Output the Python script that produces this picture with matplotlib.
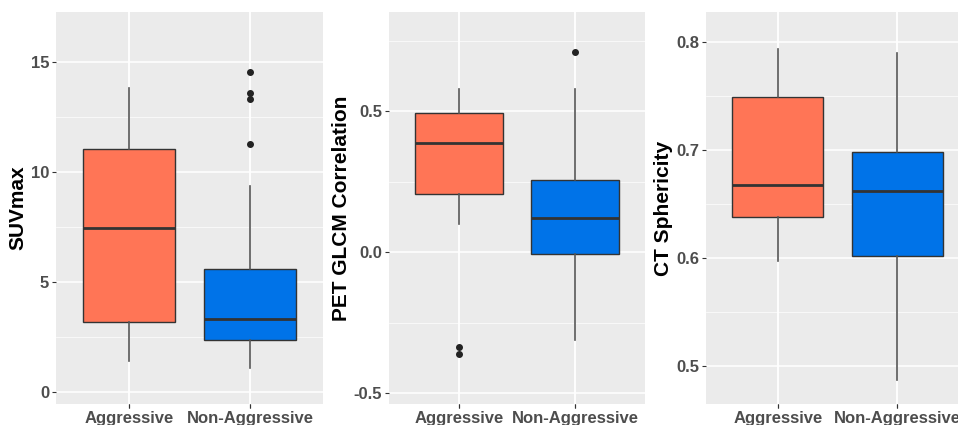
import matplotlib
matplotlib.use("Agg")
import matplotlib.pyplot as plt
from matplotlib.ticker import FixedLocator

plt.rcParams['font.family'] = ['Liberation Sans', 'DejaVu Sans']

categories = ["Aggressive", "Non-Aggressive"]
colors = ["#FF7556", "#0073E8"]

# stats: whislo, q1, med, q3, whishi, outliers
suv_stats = [(1.41, 3.20, 7.47, 11.03, 13.82, []),
             (1.09, 2.35, 3.30, 5.59, 9.38, [14.55, 13.58, 13.30, 11.27])]
pet_stats = [(0.099, 0.207, 0.389, 0.493, 0.579, [-0.335, -0.361]),
             (-0.311, -0.007, 0.121, 0.255, 0.579, [0.710])]
ct_stats = [(0.597, 0.638, 0.668, 0.749, 0.794, []),
            (0.487, 0.602, 0.662, 0.698, 0.790, [])]

panels = [
    dict(stats=suv_stats, label="SUVmax", ylim=(-0.55, 17.27), major=[0, 5, 10, 15],
         minor=[2.5, 7.5, 12.5], fmt=lambda v: f"{v:g}", pos=(56, 323)),
    dict(stats=pet_stats, label="PET GLCM Correlation", ylim=(-0.538, 0.852), major=[-0.5, 0.0, 0.5],
         minor=[-0.25, 0.25, 0.75], fmt=lambda v: f"{v:.1f}", pos=(389, 645)),
    dict(stats=ct_stats, label="CT Sphericity", ylim=(0.465, 0.828), major=[0.5, 0.6, 0.7, 0.8],
         minor=[0.55, 0.65, 0.75], fmt=lambda v: f"{v:.1f}", pos=(706, 969)),
]

W, H = 958, 425
fig = plt.figure(figsize=(W / 100, H / 100), dpi=100)
top, bottom = 12, 404

for p in panels:
    x0, x1 = p["pos"]
    ax = fig.add_axes([x0 / W, 1 - bottom / H, (x1 - x0) / W, (bottom - top) / H])
    ax.set_facecolor("#EBEBEB")
    for s in ax.spines.values():
        s.set_visible(False)
    ax.set_xlim(0.4, 2.6)
    ax.set_ylim(*p["ylim"])
    ax.yaxis.set_minor_locator(FixedLocator(p["minor"]))
    ax.set_yticks(p["major"])
    ax.set_yticklabels([p["fmt"](v) for v in p["major"]])
    ax.set_xticks([1, 2])
    ax.set_xticklabels(categories)
    ax.grid(True, which="major", color="white", lw=1.1)
    ax.grid(True, which="minor", axis="y", color="white", lw=0.5)
    ax.set_axisbelow(True)
    ax.tick_params(which="major", length=3, width=0.8, color="#333333", pad=2,
                   labelsize=12, labelcolor="#4D4D4D")
    ax.tick_params(which="minor", length=0)
    for lab in ax.get_xticklabels() + ax.get_yticklabels():
        lab.set_fontweight("bold")
    ax.set_ylabel(p["label"], fontsize=15, fontweight="bold", color="black", labelpad=2)

    bstats = []
    for cat, (lo, q1, med, q3, hi, fl) in zip(categories, p["stats"]):
        bstats.append(dict(label=cat, whislo=lo, q1=q1, med=med, q3=q3, whishi=hi, fliers=fl))
    res = ax.bxp(bstats, positions=[1, 2], widths=0.76, patch_artist=True, showcaps=False,
                 boxprops=dict(edgecolor="#333333", linewidth=1.0),
                 medianprops=dict(color="#333333", linewidth=2.0),
                 whiskerprops=dict(color="#555555", linewidth=1.2),
                 flierprops=dict(marker="o", markersize=4.0, markerfacecolor="#222222",
                                 markeredgecolor="#222222"))
    for patch, c in zip(res["boxes"], colors):
        patch.set_facecolor(c)

fig.savefig("out.png", dpi=100)
